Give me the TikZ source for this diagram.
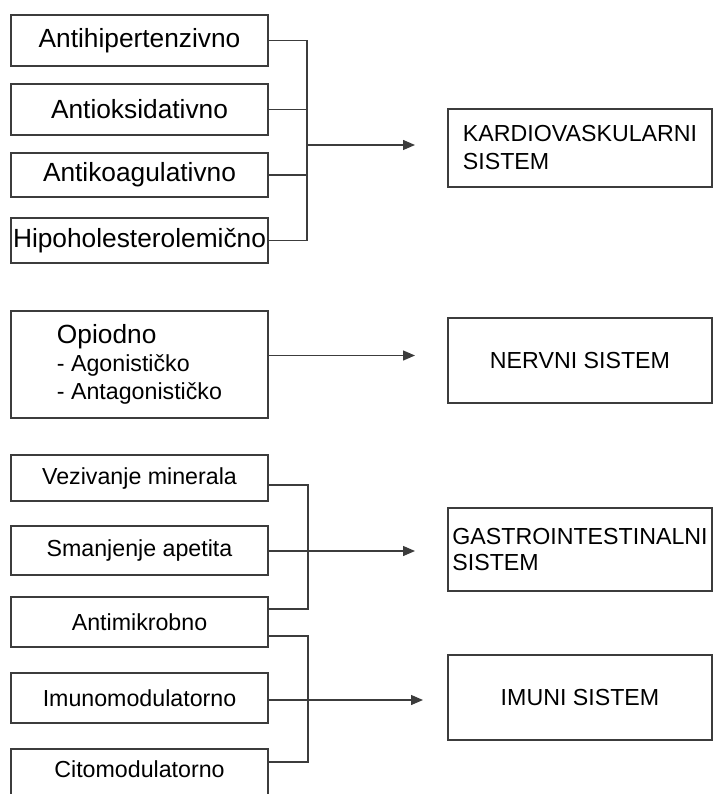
\documentclass[tikz,border=0pt]{standalone}
\usepackage{fontspec}
\setmainfont{Liberation Sans}
\usetikzlibrary{arrows.meta,positioning,calc}
\definecolor{linec}{HTML}{3C3C3C}
\newcommand{\bigfs}{\fontsize{26.3}{30}\selectfont}
\newcommand{\smallfs}{\fontsize{23.2}{28}\selectfont}

\begin{document}
\begin{tikzpicture}[x=1pt,y=-1pt,
  box/.style={draw=linec,line width=1.3pt,minimum width=257pt,inner sep=0pt,outer sep=0pt,align=center},
  sysbox/.style={draw=linec,line width=1.3pt,minimum width=264pt,inner sep=0pt,outer sep=0pt,font=\smallfs},
  link/.style={draw=linec,line width=1.3pt},
  arrow/.style={link,-{Triangle[length=12pt,width=10pt]}}
]
\useasboundingbox (0,0) rectangle (713,794);
% left column
\node[box,font=\bigfs,minimum height=51pt] (hip) at (139.5,40.5) {Antihipertenzivno};
\node[box,font=\bigfs,minimum height=51pt,below=18pt of hip] (oks) {Antioksidativno};
\node[box,font=\bigfs,minimum height=44pt,below=18pt of oks] (koa) {Antikoagulativno};
\node[box,font=\bigfs,minimum height=45pt,below=21pt of koa] (hol) {Hipoholesterolemično};
\node[box,font=\smallfs,align=left,minimum height=107pt,below=48pt of hol] (opi) {{\bigfs Opiodno}\\- Agonističko\\- Antagonističko};
\node[box,font=\smallfs,minimum height=46pt,below=37pt of opi] (vez) {Vezivanje minerala};
\node[box,font=\smallfs,minimum height=49pt,below=25pt of vez] (ape) {Smanjenje apetita};
\node[box,font=\smallfs,minimum height=50pt,below=22pt of ape] (mik) {Antimikrobno};
\node[box,font=\smallfs,minimum height=50pt,below=26pt of mik] (imo) {Imunomodulatorno};
\node[box,font=\smallfs,minimum height=50pt,text depth=9pt,below=26pt of imo] (cit) {Citomodulatorno};
% systems
\node[sysbox,align=left,minimum height=78pt] (kar) at (580,148) {KARDIOVASKULARNI\\SISTEM};
\node[sysbox,minimum height=85pt] (ner) at (580,360.5) {NERVNI SISTEM};
\node[sysbox,align=left,font=\fontsize{23.2}{26}\selectfont,minimum height=83pt] (gas) at (580,549.5) {GASTROINTESTINALNI\\SISTEM};
\node[sysbox,minimum height=85pt] (imu) at (580,697.5) {IMUNI SISTEM};
% brackets
\coordinate (j1) at (307,145);
\coordinate (j2) at ([yshift=9pt]opi.east);
\coordinate (j3) at (308,551);
\coordinate (j4) at (308,700);
\draw[link] (hip.east) -| (j1);
\draw[link] (oks.east) -| (j1);
\draw[link] (koa.east) -| (j1);
\draw[link] (hol.east) -| (j1);
\draw[arrow] (j1) -- ($(j1 -| kar.west)+(-33,0)$);
\draw[arrow] (j2) -- ($(j2 -| ner.west)+(-33,0)$);
\draw[link] ([yshift=-7pt]vez.east) -| (j3);
\draw[link] (j3 -| ape.east) -- (j3);
\draw[link] ([yshift=13pt]mik.east) -| (j3);
\draw[arrow] (j3) -- ($(j3 -| gas.west)+(-33,0)$);
\draw[link] ([yshift=-14pt]mik.east) -| (j4);
\draw[link] (j4 -| imo.east) -- (j4);
\draw[link] ([yshift=12pt]cit.east) -| (j4);
\draw[arrow] (j4) -- ($(j4 -| imu.west)+(-25,0)$);
\end{tikzpicture}
\end{document}
